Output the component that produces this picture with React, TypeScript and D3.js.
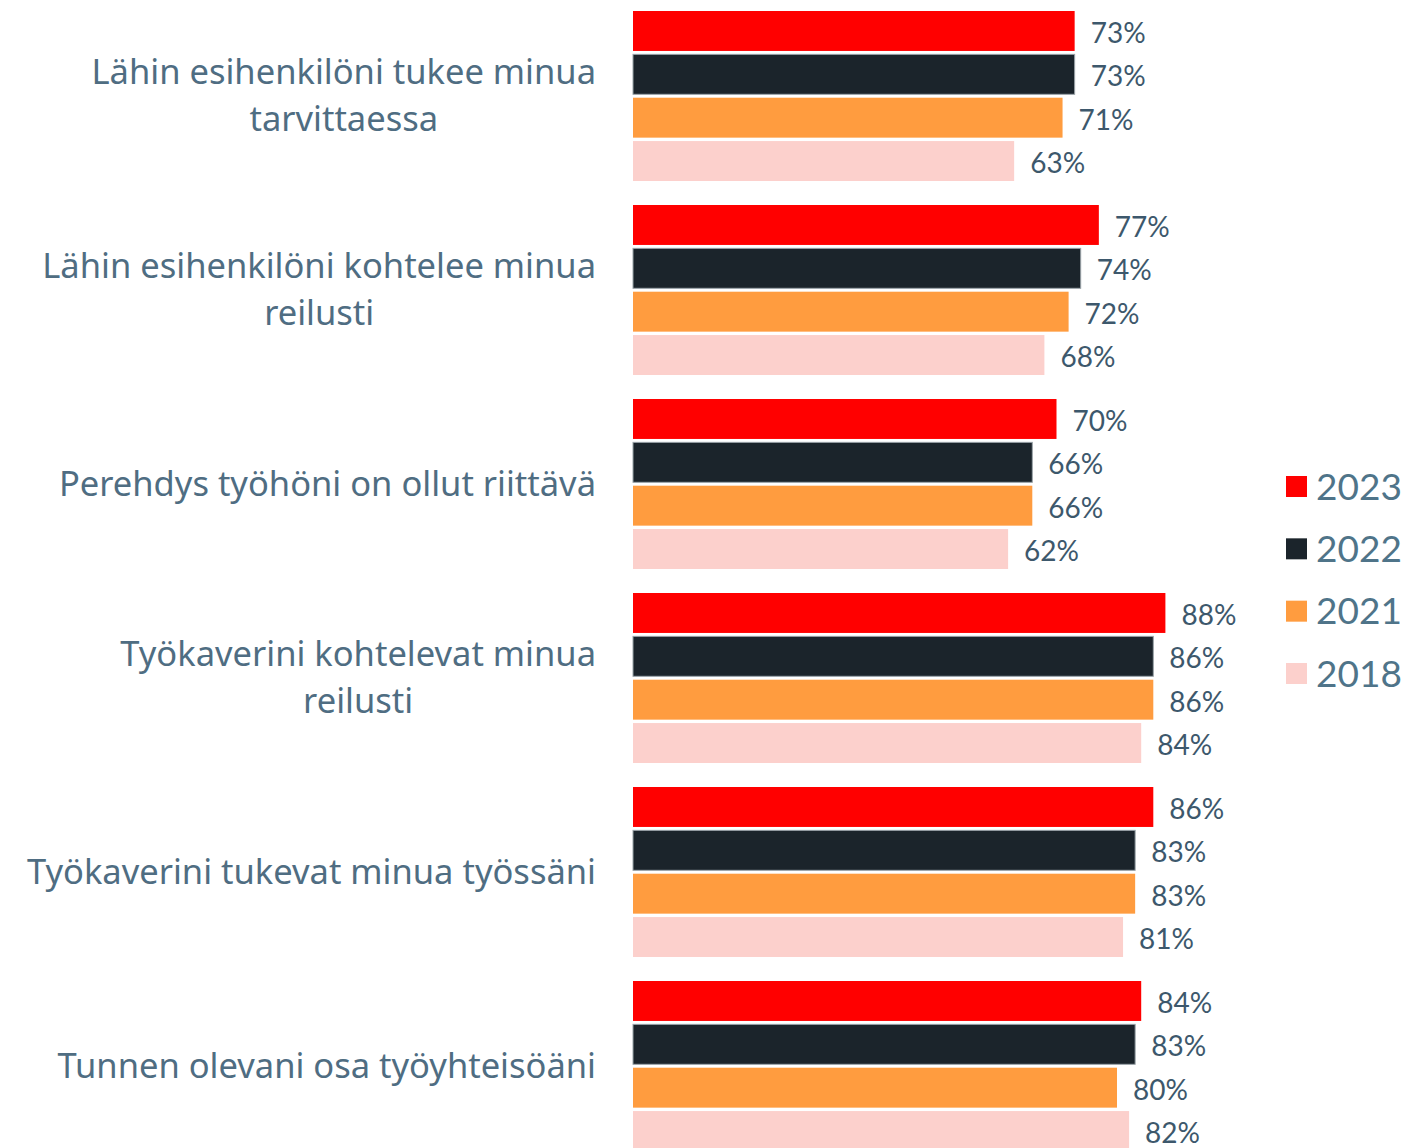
import React from "react";
import * as d3 from "d3";

const categories: string[][] = [
  ["Lähin esihenkilöni tukee minua", "tarvittaessa"],
  ["Lähin esihenkilöni kohtelee minua", "reilusti"],
  ["Perehdys työhöni on ollut riittävä"],
  ["Työkaverini kohtelevat minua", "reilusti"],
  ["Työkaverini tukevat minua työssäni"],
  ["Tunnen olevani osa työyhteisöäni"],
];
const series = ["2023", "2022", "2021", "2018"];
const values2023 = [73, 77, 70, 88, 86, 84];
const values2022 = [73, 74, 66, 86, 83, 83];
const values2021 = [71, 72, 66, 86, 83, 80];
const values2018 = [63, 68, 62, 84, 81, 82];
const colors = ["#ff0000", "#1b242b", "#ff9c3f", "#fcd0cc"];

const allValues = [values2023, values2022, values2021, values2018];

const labelFontFamily = "'Noto Sans', sans-serif";
const labelFontSize = 34.5;

function measure(t: string): number {
  if (typeof document === "undefined") return t.length * 16;
  const c = document.createElement("canvas").getContext("2d");
  if (!c) return t.length * 16;
  c.font = `${labelFontSize}px ${labelFontFamily}`;
  return c.measureText(t).width;
}

export default function App() {
  const W = 1406, H = 1148;
  const font = "Lato, 'Noto Sans', sans-serif";
  const x = d3.scaleLinear().domain([0, 100]).range([633, 1238]);
  const idx = categories.map((_, i) => String(i));
  const y0 = d3.scaleBand<string>().domain(idx).range([11, 11 + 6 * 194 - 24]).paddingInner(24 / 194).paddingOuter(0);
  const y1 = d3.scaleBand<string>().domain(series).range([0, y0.bandwidth()]).paddingInner(3.4 / 43.4).paddingOuter(0);
  const legendY = d3.scalePoint<string>().domain(series).range([485, 672]);

  return (
    <svg width={W} height={H} style={{ position: "absolute", left: 0, top: 0, background: "#fff" }}>
      {categories.map((lines, g) => {
        const gy = y0(String(g))!;
        const cy = gy + y0.bandwidth() / 2 - 2;
        const lh = 47;
        const maxW = Math.max(...lines.map(measure));
        const cx = 596 - maxW / 2;
        return (
          <g key={g}>
            {lines.map((t, li) => (
              <text key={li} x={cx} y={cy + (li - (lines.length - 1) / 2) * lh} textAnchor="middle" dominantBaseline="central"
                fontFamily={labelFontFamily} fontSize={labelFontSize} fill="#4f6d82">{t}</text>
            ))}
            {series.map((s, si) => {
              const v = allValues[si][g];
              const by = gy + y1(s)!;
              return (
                <g key={s}>
                  <rect x={x(0)} y={by} width={x(v) - x(0)} height={y1.bandwidth()} fill={colors[si]}
                    stroke={si === 1 ? "#9aa3a8" : "none"} strokeWidth={si === 1 ? 1 : 0} />
                  <text x={x(v) + 16} y={by + y1.bandwidth() / 2 + 1} dominantBaseline="central" fontFamily={font}
                    fontSize={28} fill="#3d586c">{v}%</text>
                </g>
              );
            })}
          </g>
        );
      })}
      {series.map((s, si) => (
        <g key={s}>
          <rect x={1286} y={legendY(s)! - 9} width={21} height={21} fill={colors[si]} />
          <text x={1316} y={legendY(s)!} dominantBaseline="central" fontFamily={font} fontSize={37} fill="#4f7489">{s}</text>
        </g>
      ))}
    </svg>
  );
}
